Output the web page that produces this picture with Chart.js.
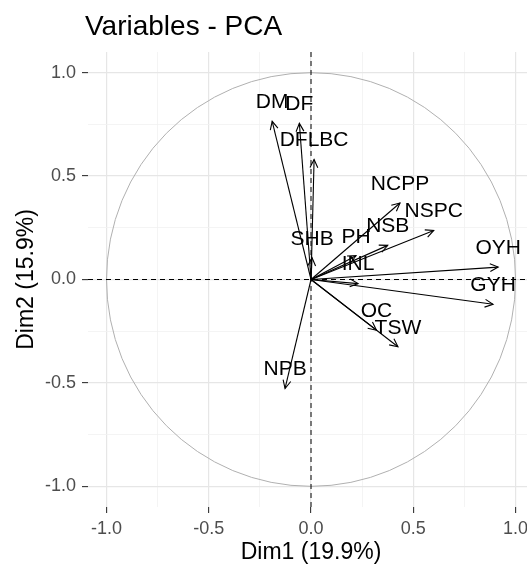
<!DOCTYPE html>
<html>
<head>
<meta charset="utf-8">
<script src="https://cdn.jsdelivr.net/npm/chart.js@4.4.1/dist/chart.umd.min.js"></script>
<style>
    body { margin: 0; background: #fff; }
    #wrap { width: 527px; height: 568px; }
</style>
</head>
<body>
<div id="wrap"><canvas id="pcaChart" width="527" height="568"></canvas></div>
<script>
// variable names and their coordinates on Dim1 / Dim2
const varNames = ['DM', 'DF', 'DFLBC', 'NCPP', 'NSPC', 'NSB', 'PH', 'SHB', 'INL', 'OYH', 'GYH', 'OC', 'TSW', 'NPB'];
const dim1 = [-0.19, -0.057, 0.015, 0.435, 0.60, 0.375, 0.22, 0.005, 0.23, 0.915, 0.89, 0.32, 0.425, -0.127];
const dim2 = [0.765, 0.755, 0.58, 0.37, 0.237, 0.165, 0.115, 0.105, -0.02, 0.06, -0.12, -0.245, -0.325, -0.527];

// axis ticks (major ones get a label)
const tickValues = [-1, -0.75, -0.5, -0.25, 0, 0.25, 0.5, 0.75, 1];
const majorTicks = [-1, -0.5, 0, 0.5, 1];

const chartTitle = 'Variables - PCA';
const xTitle = 'Dim1 (19.9%)';
const yTitle = 'Dim2 (15.9%)';

const FONT = "'Liberation Sans', Arial, sans-serif";

function isMajor(v) {
    return majorTicks.some(m => Math.abs(m - v) < 1e-6);
}

const datasets = varNames.map((name, i) => ({
    label: name,
    data: [{ x: 0, y: 0 }, { x: dim1[i], y: dim2[i] }],
    showLine: true,
    borderColor: '#000',
    borderWidth: 1.1,
    pointRadius: 0,
    fill: false
}));

// circle + dashed zero lines under arrows, arrowheads + labels on top
const pcaDecor = {
    id: 'pcaDecor',
    beforeDatasetsDraw(chart) {
        const ctx = chart.ctx;
        const xs = chart.scales.x, ys = chart.scales.y;
        const area = chart.chartArea;
        const cx = xs.getPixelForValue(0), cy = ys.getPixelForValue(0);
        const rx = xs.getPixelForValue(1) - cx;
        const ry = cy - ys.getPixelForValue(1);

        ctx.save();
        ctx.beginPath();
        ctx.rect(area.left, area.top, area.right - area.left, area.bottom - area.top);
        ctx.clip();

        ctx.strokeStyle = '#b0b0b0';
        ctx.lineWidth = 1;
        ctx.beginPath();
        ctx.ellipse(cx, cy, rx, ry, 0, 0, Math.PI * 2);
        ctx.stroke();

        ctx.strokeStyle = '#000';
        ctx.lineWidth = 1;
        ctx.setLineDash([5, 4]);
        ctx.beginPath();
        ctx.moveTo(area.left, cy);
        ctx.lineTo(area.right, cy);
        ctx.moveTo(cx, area.top);
        ctx.lineTo(cx, area.bottom);
        ctx.stroke();
        ctx.restore();
    },
    afterDatasetsDraw(chart) {
        const ctx = chart.ctx;
        const xs = chart.scales.x, ys = chart.scales.y;
        const x0 = xs.getPixelForValue(0), y0 = ys.getPixelForValue(0);

        ctx.save();
        ctx.strokeStyle = '#000';
        ctx.lineWidth = 1.1;
        varNames.forEach((name, i) => {
            const px = xs.getPixelForValue(dim1[i]);
            const py = ys.getPixelForValue(dim2[i]);
            const a = Math.atan2(py - y0, px - x0);
            const len = 9, spread = 0.45;
            ctx.beginPath();
            ctx.moveTo(px - len * Math.cos(a - spread), py - len * Math.sin(a - spread));
            ctx.lineTo(px, py);
            ctx.lineTo(px - len * Math.cos(a + spread), py - len * Math.sin(a + spread));
            ctx.stroke();
        });

        ctx.fillStyle = '#000';
        ctx.font = '21px ' + FONT;
        ctx.textAlign = 'center';
        ctx.textBaseline = 'middle';
        varNames.forEach((name, i) => {
            const px = xs.getPixelForValue(dim1[i]);
            const py = ys.getPixelForValue(dim2[i]);
            ctx.fillText(name, px, py - 19);
        });
        ctx.restore();
    },
    afterDraw(chart) {
        const ctx = chart.ctx;
        ctx.save();
        ctx.fillStyle = '#000';

        ctx.font = '28px ' + FONT;
        ctx.textAlign = 'left';
        ctx.textBaseline = 'alphabetic';
        ctx.fillText(chartTitle, 85, 35);

        ctx.font = '23px ' + FONT;
        ctx.textAlign = 'center';
        ctx.textBaseline = 'middle';
        ctx.fillText(xTitle, chart.scales.x.getPixelForValue(0), 553);

        ctx.translate(27, chart.scales.y.getPixelForValue(0));
        ctx.rotate(-Math.PI / 2);
        ctx.fillText(yTitle, 0, 0);
        ctx.restore();
    }
};

function axisOptions(min, max, isX) {
    return {
        type: 'linear',
        min: min,
        max: max,
        afterBuildTicks: function (scale) {
            scale.ticks = tickValues.map(v => ({ value: v }));
        },
        afterFit: function (scale) {
            if (isX) {
                scale.height = 61;
                scale.paddingLeft = 0;
                scale.paddingRight = 0;
            } else {
                scale.width = 88;
                scale.paddingTop = 0;
                scale.paddingBottom = 0;
            }
        },
        border: { display: false },
        grid: {
            color: ctx => isMajor(ctx.tick.value) ? '#e6e6e6' : '#f1f1f1',
            lineWidth: ctx => isMajor(ctx.tick.value) ? 1.2 : 0.8,
            tickColor: ctx => isMajor(ctx.tick.value) ? '#333' : 'rgba(0,0,0,0)',
            tickWidth: 1.1,
            tickLength: 6
        },
        ticks: {
            autoSkip: false,
            maxRotation: 0,
            color: '#4d4d4d',
            padding: isX ? 5 : 6,
            font: { family: FONT, size: 18 },
            callback: v => isMajor(v) ? v.toFixed(1) : ''
        }
    };
}

const ctx = document.getElementById('pcaChart').getContext('2d');
const pcaChart = new Chart(ctx, {
    type: 'scatter',
    data: { datasets: datasets },
    options: {
        responsive: false,
        animation: false,
        layout: { padding: { top: 52, left: 0, right: 0, bottom: 0 } },
        plugins: {
            legend: { display: false },
            tooltip: { enabled: false },
            title: { display: false }
        },
        scales: {
            x: axisOptions(-1.0905, 1.056, true),
            y: axisOptions(-1.1, 1.1, false)
        }
    },
    plugins: [pcaDecor]
});
</script>
</body>
</html>
